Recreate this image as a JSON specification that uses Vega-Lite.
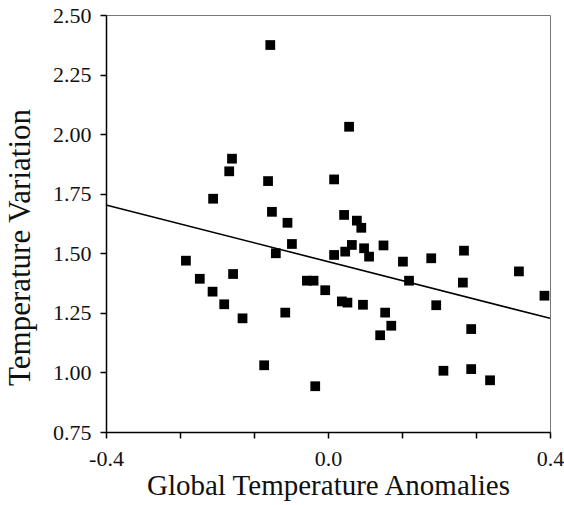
{
  "$schema": "https://vega.github.io/schema/vega-lite/v6.json",
  "width": 444,
  "height": 417,
  "autosize": "none",
  "padding": {"left": 106, "top": 15, "right": 14, "bottom": 73},
  "background": "white",
  "config": {
    "view": {"stroke": "#777", "strokeWidth": 1},
    "font": "Liberation Serif",
    "axis": {
      "labelFont": "Liberation Serif",
      "titleFont": "Liberation Serif",
      "labelColor": "#111",
      "titleColor": "#111",
      "titleFontWeight": "normal",
      "domainColor": "black",
      "tickColor": "black",
      "domainWidth": 1.5,
      "tickWidth": 1.5,
      "tickSize": 6,
      "grid": false,
      "labelFontSize": 22,
      "labelOverlap": false,
      "labelFlush": false
    }
  },
  "datasets": {
    "points": [
      {"x": -0.104, "y": 2.374},
      {"x": -0.173, "y": 1.897},
      {"x": -0.178, "y": 1.844},
      {"x": -0.108, "y": 1.803},
      {"x": -0.207, "y": 1.729},
      {"x": -0.101, "y": 1.674},
      {"x": -0.073, "y": 1.628},
      {"x": 0.038, "y": 2.031},
      {"x": 0.011, "y": 1.810},
      {"x": 0.029, "y": 1.661},
      {"x": 0.052, "y": 1.637},
      {"x": 0.060, "y": 1.607},
      {"x": -0.065, "y": 1.539},
      {"x": -0.094, "y": 1.500},
      {"x": -0.256, "y": 1.469},
      {"x": -0.231, "y": 1.393},
      {"x": -0.171, "y": 1.413},
      {"x": -0.208, "y": 1.339},
      {"x": -0.187, "y": 1.286},
      {"x": -0.154, "y": 1.227},
      {"x": -0.077, "y": 1.251},
      {"x": -0.038, "y": 1.385},
      {"x": -0.026, "y": 1.385},
      {"x": -0.005, "y": 1.345},
      {"x": -0.115, "y": 1.030},
      {"x": -0.023, "y": 0.942},
      {"x": 0.011, "y": 1.493},
      {"x": 0.031, "y": 1.507},
      {"x": 0.043, "y": 1.535},
      {"x": 0.065, "y": 1.521},
      {"x": 0.074, "y": 1.486},
      {"x": 0.100, "y": 1.533},
      {"x": 0.135, "y": 1.465},
      {"x": 0.186, "y": 1.479},
      {"x": 0.245, "y": 1.511},
      {"x": 0.146, "y": 1.385},
      {"x": 0.243, "y": 1.377},
      {"x": 0.344, "y": 1.424},
      {"x": 0.390, "y": 1.322},
      {"x": 0.025, "y": 1.298},
      {"x": 0.035, "y": 1.293},
      {"x": 0.063, "y": 1.284},
      {"x": 0.195, "y": 1.282},
      {"x": 0.103, "y": 1.251},
      {"x": 0.114, "y": 1.196},
      {"x": 0.094, "y": 1.156},
      {"x": 0.258, "y": 1.182},
      {"x": 0.208, "y": 1.007},
      {"x": 0.258, "y": 1.014},
      {"x": 0.292, "y": 0.967}
    ],
    "fit": [
      {"x": -0.4, "y": 1.703},
      {"x": 0.4, "y": 1.227}
    ]
  },
  "layer": [
    {
      "data": {"name": "fit"},
      "mark": {"type": "line", "color": "black", "strokeWidth": 1.6},
      "encoding": {
        "x": {"field": "x", "type": "quantitative"},
        "y": {"field": "y", "type": "quantitative"}
      }
    },
    {
      "data": {"name": "points"},
      "mark": {"type": "square", "filled": true, "color": "black", "opacity": 1, "size": 95},
      "encoding": {
        "x": {
          "field": "x",
          "type": "quantitative",
          "scale": {"domain": [-0.4, 0.4], "nice": false, "zero": false},
          "axis": {
            "title": "Global Temperature Anomalies",
            "titleFontSize": 29,
            "values": [-0.4, -0.33333, -0.26667, -0.2, -0.13333, -0.06667, 0, 0.06667, 0.13333, 0.2, 0.26667, 0.33333, 0.4],
            "labelExpr": "abs(datum.value*5 - round(datum.value*5)) < 0.01 ? replace(format(datum.value, '.1f'), '\u2212', '-') : ''",
            "labelPadding": 10,
            "titlePadding": 2
          }
        },
        "y": {
          "field": "y",
          "type": "quantitative",
          "scale": {"domain": [0.75, 2.5], "nice": false, "zero": false},
          "axis": {
            "title": "Temperature Variation",
            "titleFontSize": 31,
            "titleY": 232,
            "values": [0.75, 0.875, 1.0, 1.125, 1.25, 1.375, 1.5, 1.625, 1.75, 1.875, 2.0, 2.125, 2.25, 2.375, 2.5],
            "labelExpr": "abs(datum.value*4 - round(datum.value*4)) < 0.01 ? format(datum.value, '.2f') : ''",
            "labelPadding": 9,
            "titlePadding": 16
          }
        }
      }
    }
  ]
}
